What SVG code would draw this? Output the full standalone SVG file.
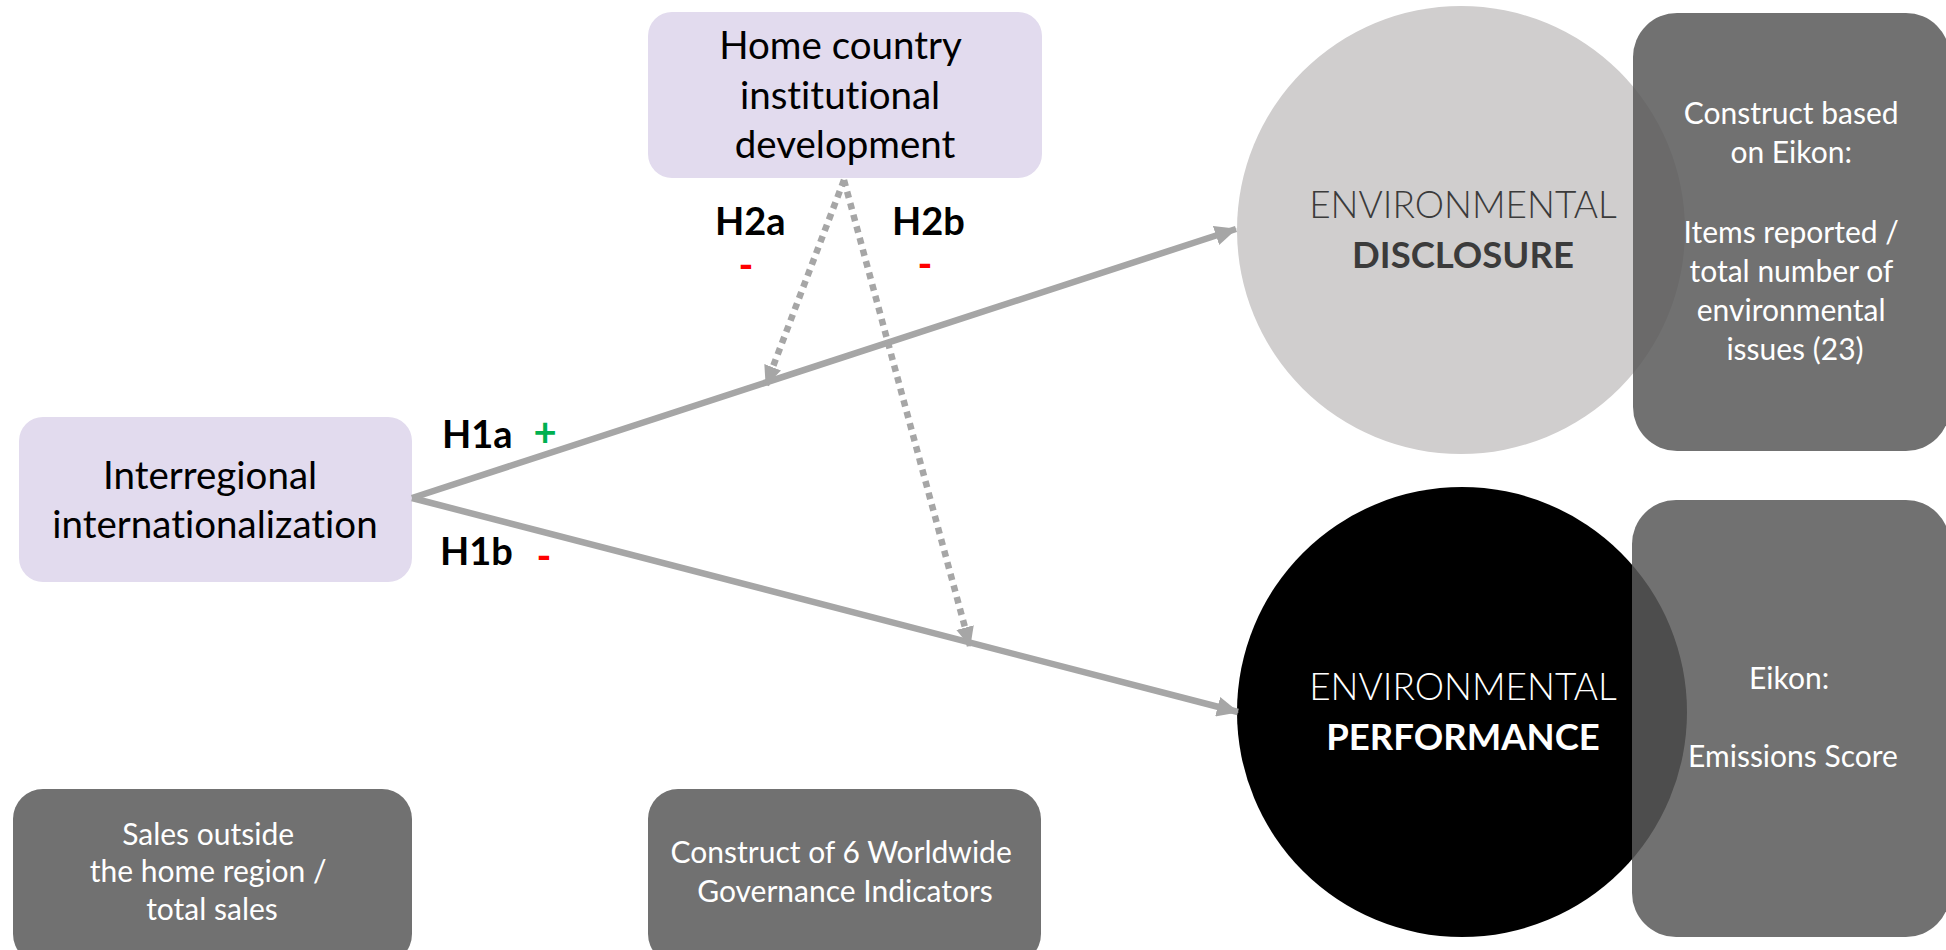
<svg xmlns="http://www.w3.org/2000/svg" width="1946" height="950" viewBox="0 0 1946 950">
  <style>
    text { font-variant-ligatures: none; font-feature-settings: "liga" 0, "clig" 0; }
    .lav { fill: #E2DBEE; }
    .meas { fill: #5A5A5A; fill-opacity: 0.86; }
    .t { font-family: Lato, "Liberation Sans", sans-serif; text-anchor: middle; }
    .big { font-size: 38.5px; fill: #000; }
    .small { font-size: 30px; fill: #FFFFFF; }
    .env { font-size: 37px; font-weight: 300; }
    .envb { font-size: 36.5px; font-weight: 700; }
    .hyp { font-family: Lato, "Liberation Sans", sans-serif; font-size: 38px; font-weight: 700; fill: #000; }
    .sign { font-family: Lato, "Liberation Sans", sans-serif; font-size: 40px; font-weight: 700; text-anchor: middle; }
    .solid { stroke: #A6A6A6; stroke-width: 6.5; fill: none; }
    .dotted { stroke: #A6A6A6; stroke-width: 6.5; fill: none; stroke-dasharray: 6.5 5.5; }
  </style>
  <defs>
    <marker id="head" markerUnits="userSpaceOnUse" viewBox="0 0 22 20" refX="21" refY="10" markerWidth="22" markerHeight="20" orient="auto">
      <path d="M0,0 L22,10 L0,20 Z" fill="#A6A6A6"/>
    </marker>
    <marker id="headDot" markerUnits="userSpaceOnUse" viewBox="0 0 20 18" refX="19" refY="9" markerWidth="20" markerHeight="18" orient="auto">
      <path d="M0,0 L20,9 L0,18 Z" fill="#A6A6A6"/>
    </marker>
  </defs>

  <!-- outcome variables -->
  <g id="disclosure">
    <circle cx="1461" cy="230" r="224" fill="#D0CECE"/>
    <text class="t env" x="1463" y="218" fill="#3B3B3B">ENVIRONMENTAL</text>
    <text class="t envb" x="1463" y="268" fill="#3B3B3B">DISCLOSURE</text>
  </g>
  <g id="performance">
    <circle cx="1462" cy="712" r="225" fill="#000000"/>
    <text class="t env" x="1463" y="700" fill="#FFFFFF">ENVIRONMENTAL</text>
    <text class="t envb" x="1463" y="750" fill="#FFFFFF">PERFORMANCE</text>
  </g>

  <!-- measurement boxes -->
  <g id="disclosure-measure">
    <rect class="meas" x="1633" y="13" width="317" height="438" rx="44"/>
    <text class="t small" x="1795">
      <tspan x="1795" y="124">Construct based</tspan>
      <tspan x="1795" y="163">on Eikon:</tspan>
      <tspan x="1795" y="243">Items reported /</tspan>
      <tspan x="1795" y="282">total number of</tspan>
      <tspan x="1795" y="321">environmental</tspan>
      <tspan x="1795" y="360">issues (23)</tspan>
    </text>
  </g>
  <g id="performance-measure">
    <rect class="meas" x="1632" y="500" width="318" height="437" rx="44"/>
    <text class="t small" x="1793">
      <tspan x="1793" y="689">Eikon:</tspan>
      <tspan x="1793" y="767">Emissions Score</tspan>
    </text>
  </g>
  <g id="internationalization-measure">
    <rect class="meas" x="13" y="789" width="399" height="175" rx="30"/>
    <text class="t small" x="212">
      <tspan x="212" y="845">Sales outside</tspan>
      <tspan x="212" y="882">the home region /</tspan>
      <tspan x="212" y="920">total sales</tspan>
    </text>
  </g>
  <g id="institutions-measure">
    <rect class="meas" x="648" y="789" width="393" height="175" rx="30"/>
    <text class="t small" x="845">
      <tspan x="845" y="863">Construct of 6 Worldwide</tspan>
      <tspan x="845" y="902">Governance Indicators</tspan>
    </text>
  </g>

  <!-- constructs -->
  <g id="internationalization">
    <rect class="lav" x="19" y="417" width="393" height="165" rx="24"/>
    <text class="t big" x="215">
      <tspan x="215" y="489">Interregional</tspan>
      <tspan x="215" y="538">internationalization</tspan>
    </text>
  </g>
  <g id="institutions">
    <rect class="lav" x="648" y="12" width="394" height="166" rx="24"/>
    <text class="t big" x="845">
      <tspan x="845" y="59">Home country</tspan>
      <tspan x="845" y="109">institutional</tspan>
      <tspan x="845" y="158">development</tspan>
    </text>
  </g>

  <!-- paths -->
  <g id="connectors">
    <line class="solid" x1="412" y1="498" x2="1236" y2="229" marker-end="url(#head)"/>
    <line class="solid" x1="412" y1="498" x2="1238" y2="712" marker-end="url(#head)"/>
    <line class="dotted" x1="844" y1="180" x2="766" y2="385" marker-end="url(#headDot)"/>
    <line class="dotted" x1="844" y1="180" x2="970" y2="646" marker-end="url(#headDot)"/>
  </g>

  <!-- hypothesis labels -->
  <g id="hypotheses">
    <text class="hyp" x="442" y="448">H1a</text>
    <text class="sign" x="545" y="446" fill="#00B050">+</text>
    <text class="hyp" x="440" y="565">H1b</text>
    <text class="sign" x="544" y="570" fill="#FF0000">-</text>
    <text class="hyp" x="715" y="235">H2a</text>
    <text class="sign" x="746" y="279" fill="#FF0000">-</text>
    <text class="hyp" x="892" y="235">H2b</text>
    <text class="sign" x="925" y="278" fill="#FF0000">-</text>
  </g>
</svg>
